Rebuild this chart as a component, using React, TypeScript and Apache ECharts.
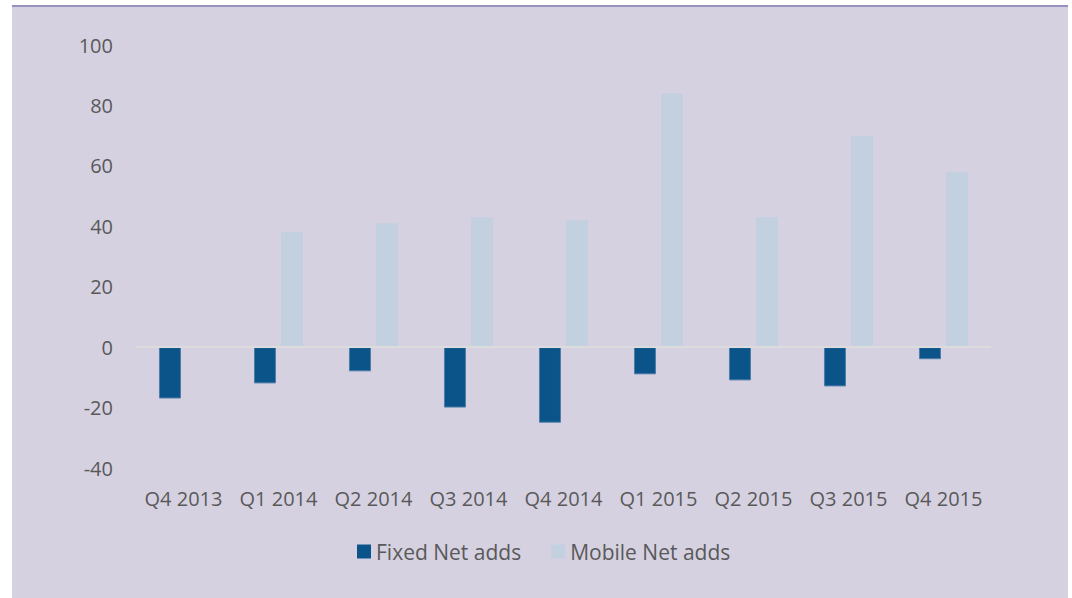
import React, { useEffect, useRef } from "react";
import * as echarts from "echarts";

const categories = ["Q4 2013", "Q1 2014", "Q2 2014", "Q3 2014", "Q4 2014", "Q1 2015", "Q2 2015", "Q3 2015", "Q4 2015"];
const fixedNetAdds = [-17, -12, -8, -20, -25, -9, -11, -13, -4];
const mobileNetAdds = [null, 38, 41, 43, 42, 84, 43, 70, 58];

export default function App() {
  const ref = useRef<HTMLDivElement>(null);
  useEffect(() => {
    document.body.style.margin = "0";
    const chart = echarts.init(ref.current!, null, { renderer: "svg" });
    const font = "'Open Sans', sans-serif";
    chart.setOption({
      animation: false,
      graphic: [
        { type: "rect", z: -10, shape: { x: 12, y: 6, width: 1056, height: 592 }, style: { fill: "#d5d1e1" } },
        { type: "rect", z: -9, shape: { x: 12, y: 5, width: 1056, height: 2 }, style: { fill: "#9a90c0" } },
      ],
      grid: { left: 136, right: 81, top: 45, bottom: 130, containLabel: false },
      legend: {
        bottom: 31,
        left: 352,
        itemWidth: 14,
        itemHeight: 14,
        itemGap: 30,
        icon: "rect",
        itemStyle: { borderWidth: 0 },
        textStyle: { color: "#595959", fontSize: 21, fontFamily: font },
        data: ["Fixed Net adds", "Mobile Net adds"],
      },
      xAxis: {
        type: "category",
        data: categories,
        axisLine: { show: false, onZero: false },
        axisTick: { show: false },
        axisLabel: { color: "#595959", fontSize: 20, fontFamily: font, margin: 20, interval: 0 },
      },
      yAxis: {
        type: "value",
        min: -40,
        max: 100,
        interval: 20,
        splitLine: { show: false },
        axisLine: { show: false },
        axisTick: { show: false },
        axisLabel: { color: "#595959", fontSize: 20, fontFamily: font, margin: 23 },
      },
      series: [
        {
          name: "Fixed Net adds",
          type: "bar",
          data: fixedNetAdds,
          barWidth: 22,
          barGap: "23%",
          itemStyle: { color: "#0b5489", borderColor: "#4f7ea8", borderWidth: 1 },
          markLine: {
            silent: true,
            symbol: "none",
            label: { show: false },
            lineStyle: { color: "#dcdcdc", width: 2, type: "solid" },
            data: [{ yAxis: 0 }],
          },
        },
        {
          name: "Mobile Net adds",
          type: "bar",
          data: mobileNetAdds,
          barWidth: 22,
          itemStyle: { color: "#c3d0e0" },
        },
      ],
    });
    return () => chart.dispose();
  }, []);
  return <div ref={ref} style={{ width: 1072, height: 598 }} />;
}
